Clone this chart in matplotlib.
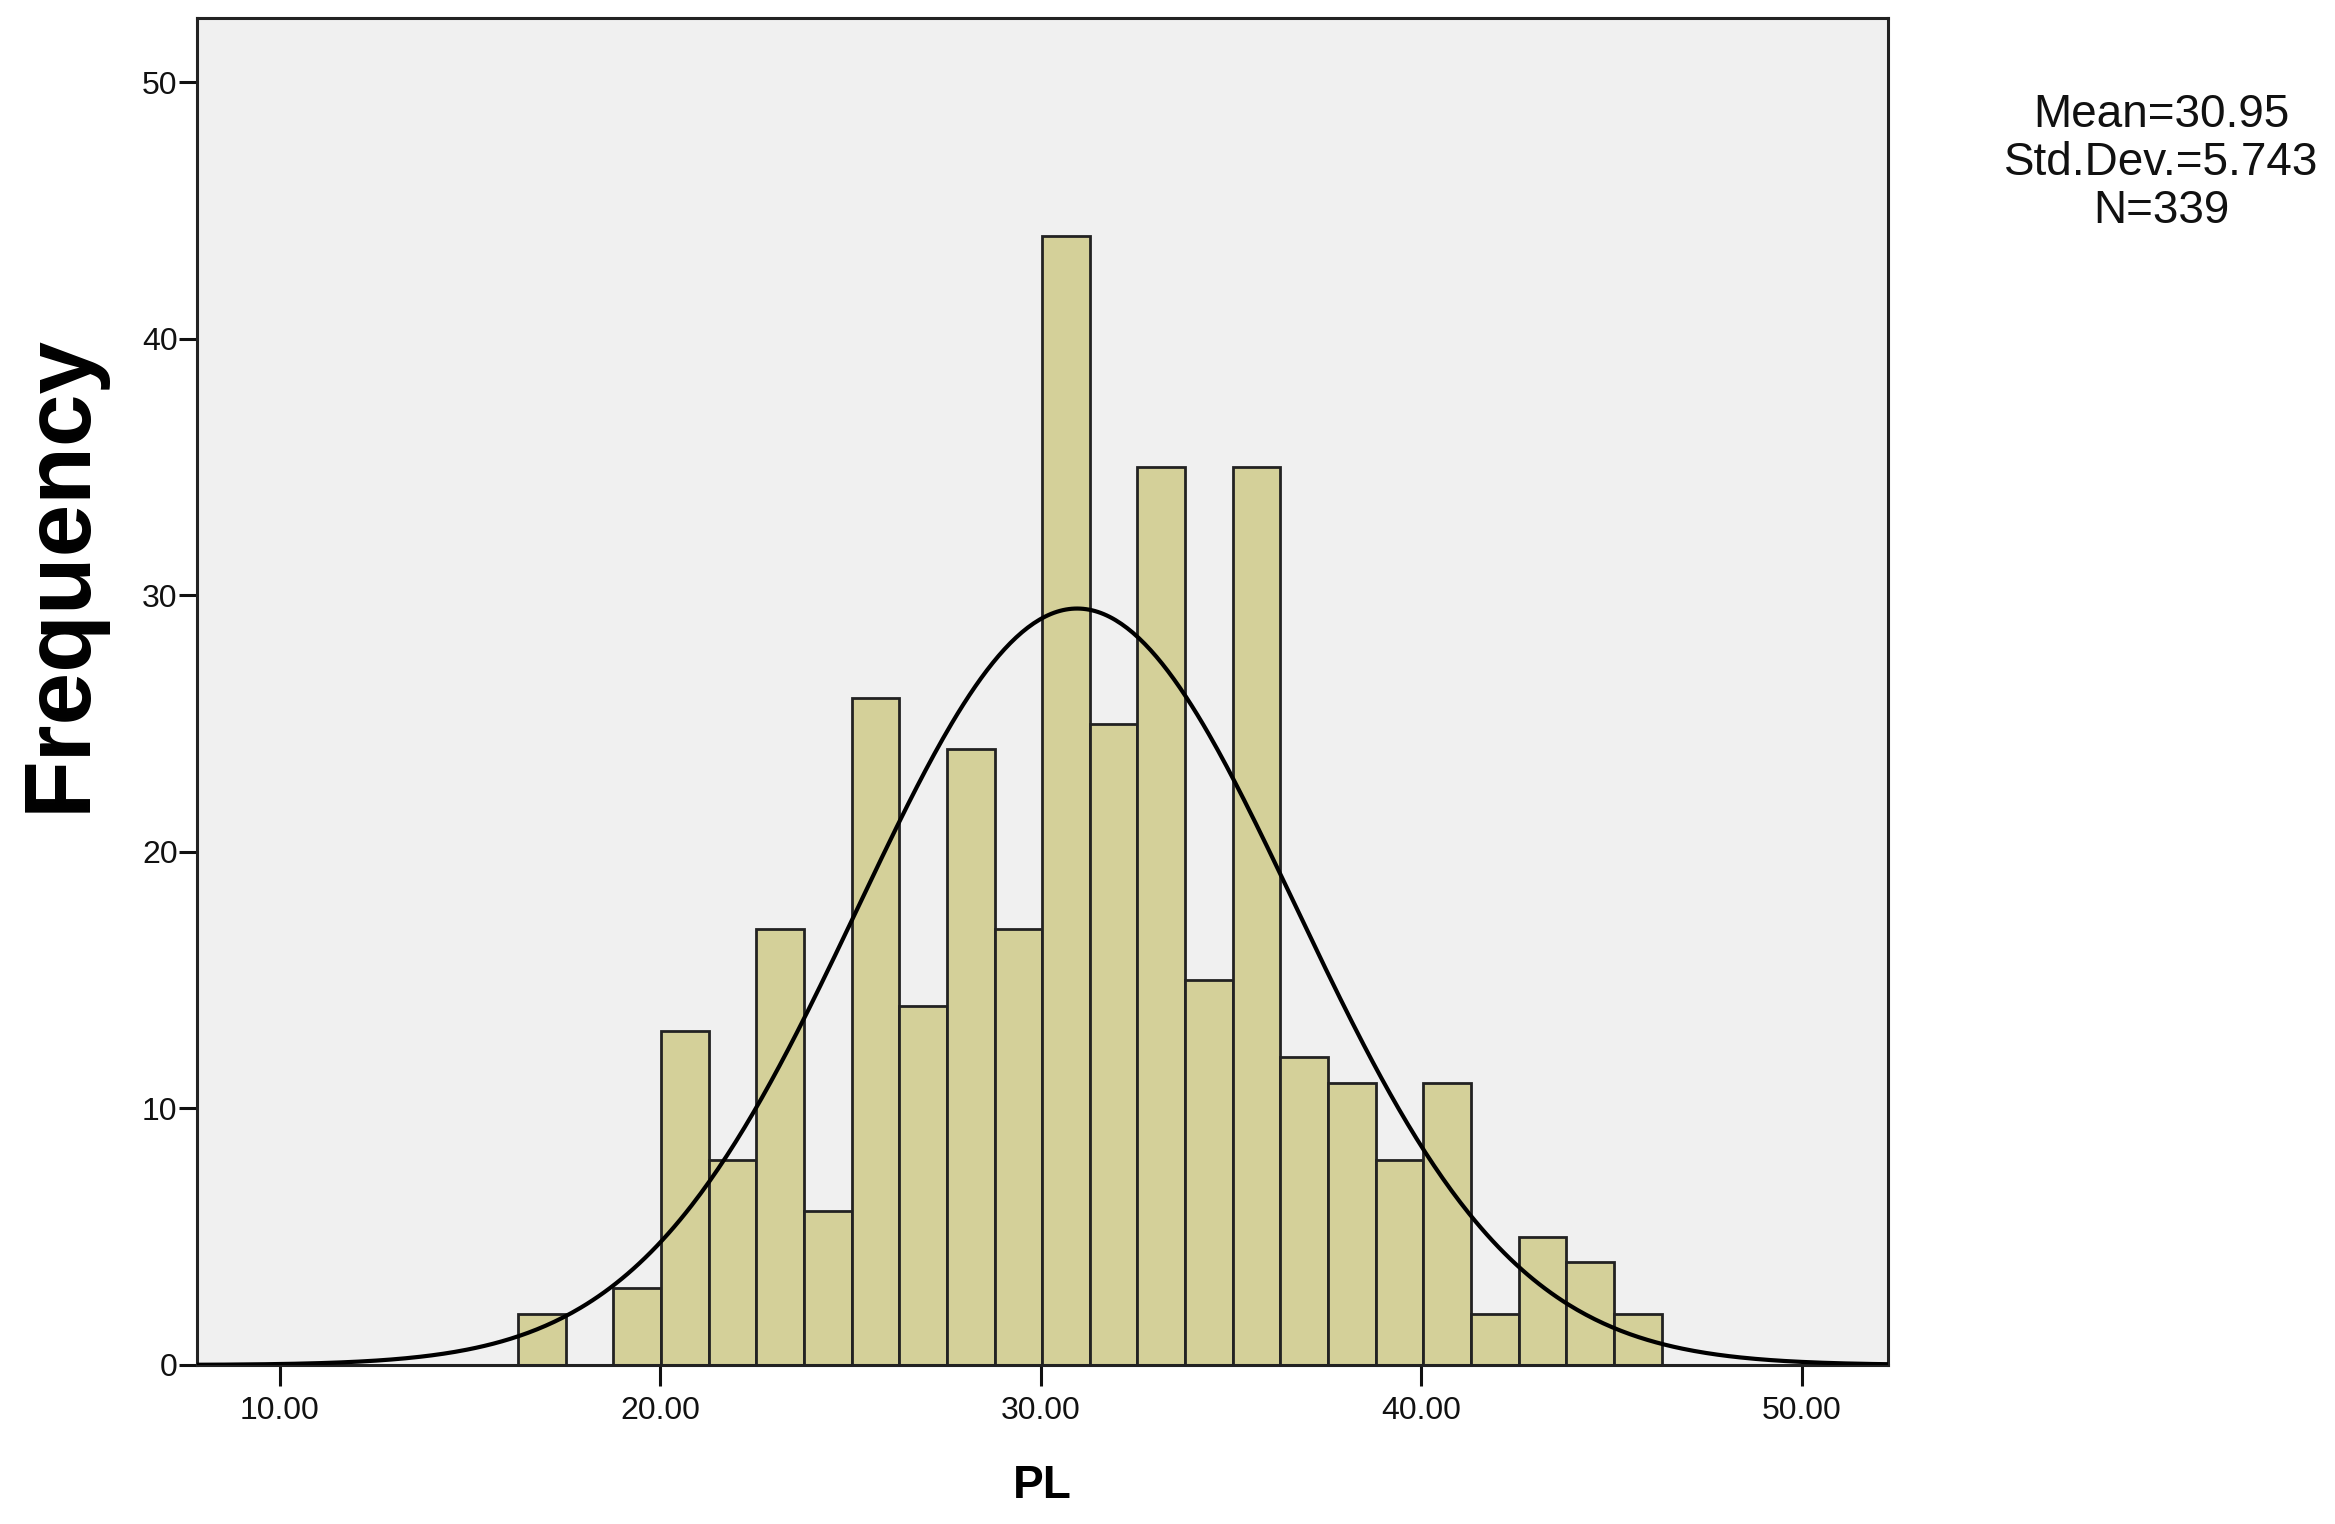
import numpy as np
import matplotlib
matplotlib.use("Agg")
import matplotlib.pyplot as plt

# ---- data ----
bin_start = 16.26
bin_width = 1.252
counts = [2, 0, 3, 13, 8, 17, 6, 26, 14, 24, 17, 44, 25, 35, 15, 35, 12, 11, 8, 11, 2, 5, 4, 2]
mean = 30.95
std_dev = 5.743
n_total = 339
x_ticks = [10, 20, 30, 40, 50]
y_ticks = [0, 10, 20, 30, 40, 50]

plt.rcParams['font.family'] = ['Liberation Sans', 'DejaVu Sans']

W, H = 2335, 1524
fig = plt.figure(figsize=(W / 100, H / 100), dpi=100)
fig.patch.set_facecolor('white')

ax_l, ax_r, ax_b, ax_t = 197, 1888, 1365, 18
ax = fig.add_axes([ax_l / W, 1 - ax_b / H, (ax_r - ax_l) / W, (ax_b - ax_t) / H])
ax.set_facecolor('#F0F0F0')

edges = bin_start + bin_width * np.arange(len(counts) + 1)
lefts = edges[:-1]
ax.bar(lefts, counts, width=bin_width, align='edge', color='#D4D099',
       edgecolor='#222222', linewidth=2.0, zorder=2)

xs = np.linspace(7.0, 53.0, 600)
ys = n_total * bin_width / (std_dev * np.sqrt(2 * np.pi)) * np.exp(-0.5 * ((xs - mean) / std_dev) ** 2)
ax.plot(xs, ys, color='black', linewidth=3.0, zorder=3)

ax.set_xlim(7.82, 52.26)
ax.set_ylim(0, 52.5)
ax.set_xticks(x_ticks)
ax.set_xticklabels([f"{v:.2f}" for v in x_ticks])
ax.set_yticks(y_ticks)
ax.set_yticklabels([str(v) for v in y_ticks])
ax.tick_params(axis='x', direction='out', length=15, width=2.2, pad=7, labelsize=23, colors='#111111')
ax.tick_params(axis='y', direction='out', length=13, width=2.2, pad=1, labelsize=23, colors='#111111')
ax.tick_params(top=False, right=False)
for s in ax.spines.values():
    s.set_linewidth(2.2)
    s.set_color('#222222')

fig.text(1042 / W, 1 - 1486 / H, 'PL', ha='center', va='center', fontsize=33, fontweight='bold')
fig.text(60 / W, 1 - 573 / H, 'Frequency', ha='center', va='center', rotation=90,
         fontsize=68, fontweight='bold')

fig.text(2161 / W, 1 - 163 / H, f"Mean={mean:.2f}\nStd.Dev.={std_dev:.3f}\nN={n_total}",
         ha='center', va='center', fontsize=33, linespacing=1.13, color='#111111')

fig.savefig('out.png', dpi=100)
